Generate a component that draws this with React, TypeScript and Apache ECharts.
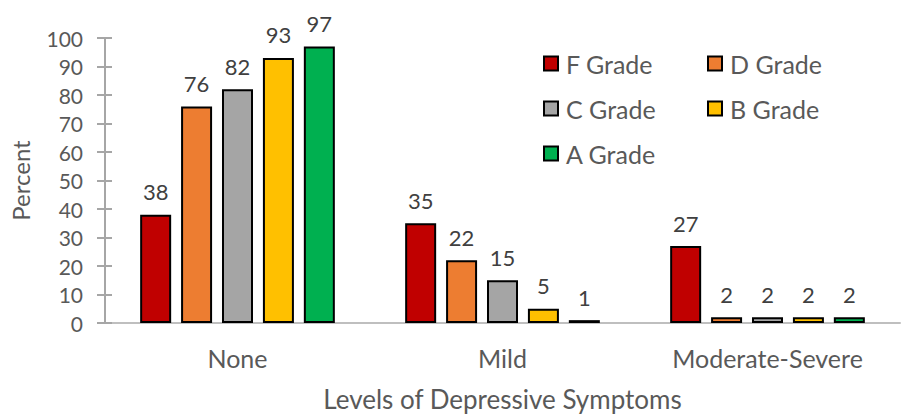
import React, { useEffect, useRef } from "react";
import * as echarts from "echarts";

const categories = ["None", "Mild", "Moderate-Severe"];
const gradeNames = ["F Grade", "D Grade", "C Grade", "B Grade", "A Grade"];
const gradeColors = ["#C00000", "#ED7D31", "#A5A5A5", "#FFC000", "#00B050"];
const fGrade = [38, 35, 27];
const dGrade = [76, 22, 2];
const cGrade = [82, 15, 2];
const bGrade = [93, 5, 2];
const aGrade = [97, 1, 2];
const gradeValues = [fGrade, dGrade, cGrade, bGrade, aGrade];
const yTicks = { min: 0, max: 100, interval: 10 };

const FONT = "Lato, 'Open Sans', sans-serif";
const GREY_TEXT = "#595959";

export default function App() {
  const ref = useRef<HTMLDivElement>(null);

  useEffect(() => {
    if (!ref.current) return;
    const chart = echarts.init(ref.current, undefined, { renderer: "svg" });

    const series = gradeNames.map((name, i) => ({
      name,
      type: "bar",
      data: gradeValues[i],
      barWidth: 31,
      barGap: "32%",
      itemStyle: { color: gradeColors[i], borderColor: "#000", borderWidth: 2 },
      label: {
        show: true,
        position: "top",
        distance: 12,
        color: "#404040",
        fontSize: 22,
        fontFamily: FONT,
      },
    }));

    const legendBase = {
      orient: "vertical",
      top: 51,
      padding: 0,
      itemWidth: 14,
      itemHeight: 14,
      itemGap: 20,
      icon: "rect",
      textStyle: { color: GREY_TEXT, fontSize: 25, fontFamily: FONT, padding: [0, 0, 0, 3] },
    };

    chart.setOption({
      animation: false,
      textStyle: { fontFamily: FONT },
      grid: { left: 105, right: 5, top: 38, bottom: 91, outerBoundsMode: "none", containLabel: false },
      legend: [
        { ...legendBase, data: ["F Grade", "C Grade", "A Grade"], left: 543 },
        { ...legendBase, data: ["D Grade", "B Grade"], left: 707 },
      ],
      xAxis: {
        type: "category",
        data: categories,
        name: "Levels of Depressive Symptoms",
        nameLocation: "middle",
        nameGap: 63,
        nameTextStyle: { color: GREY_TEXT, fontSize: 26, fontFamily: FONT },
        axisLine: { lineStyle: { color: "#BFBFBF", width: 2 } },
        axisTick: { show: false },
        axisLabel: { color: GREY_TEXT, fontSize: 25, fontFamily: FONT, margin: 22 },
      },
      yAxis: [
        {
          type: "value",
          ...yTicks,
          name: "Percent",
          nameLocation: "middle",
          nameGap: 73,
          nameTextStyle: { color: GREY_TEXT, fontSize: 24, fontFamily: FONT },
          axisLine: { show: true, lineStyle: { color: "#A6A6A6", width: 2 } },
          axisTick: { show: true, length: 8, lineStyle: { color: "#A6A6A6", width: 2 } },
          axisLabel: { color: GREY_TEXT, fontSize: 21, fontFamily: FONT, margin: 22 },
          splitLine: { show: false },
        },
        {
          type: "value",
          ...yTicks,
          position: "left",
          axisLine: { show: false },
          axisTick: { show: true, inside: true, length: 7, lineStyle: { color: "#A6A6A6", width: 2 } },
          axisLabel: { show: false },
          splitLine: { show: false },
        },
      ],
      series,
    });

    return () => chart.dispose();
  }, []);

  return (
    <div
      ref={ref}
      style={{ position: "fixed", left: 0, top: 0, width: 905, height: 414, background: "#fff" }}
    />
  );
}
